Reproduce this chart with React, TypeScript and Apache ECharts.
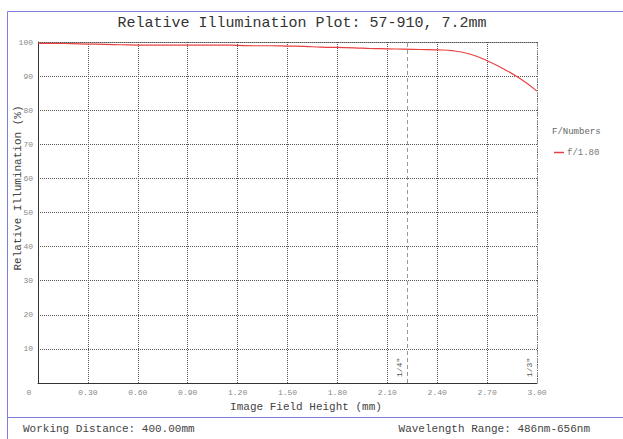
import React, { useEffect, useRef } from "react";
import * as echarts from "echarts";

const fieldHeights = [0, 0.1, 0.2, 0.3, 0.4, 0.5, 0.6, 0.7, 0.8, 0.9, 1.0, 1.1, 1.2, 1.3, 1.4, 1.5, 1.6, 1.7, 1.8, 1.9, 2.0, 2.1, 2.2, 2.3, 2.4, 2.5, 2.6, 2.7, 2.8, 2.9, 3.0];
const illumination = [99.6, 99.6, 99.5, 99.4, 99.3, 99.2, 99.1, 99.1, 99.1, 99.1, 99.1, 99.1, 99.0, 98.9, 98.9, 98.8, 98.7, 98.5, 98.4, 98.3, 98.1, 98.0, 97.9, 97.8, 97.7, 97.4, 96.4, 94.5, 92.1, 89.2, 85.6];
const seriesName = "f/1.80";
const sensorMarkers = [
  { x: 2.22, label: '1/4"' },
  { x: 3.0, label: '1/3"' },
];
const titleText = "Relative Illumination Plot: 57-910, 7.2mm";
const xName = "Image Field Height (mm)";
const yName = "Relative Illumination (%)";
const legendTitle = "F/Numbers";
const footerLeft = "Working Distance: 400.00mm";
const footerRight = "Wavelength Range: 486nm-656nm";

const MONO = '"Liberation Mono", "Courier New", monospace';

export default function App() {
  const ref = useRef<HTMLDivElement>(null);
  useEffect(() => {
    if (!ref.current) return;
    const chart = echarts.init(ref.current, null, { renderer: "svg" });
    const frameColor = "#7f7fe0";
    chart.setOption({
      animation: false,
      backgroundColor: "#ffffff",
      grid: { left: 38, right: 86, top: 42, bottom: 56, containLabel: false },
      xAxis: {
        type: "value",
        min: 0,
        max: 3,
        interval: 0.3,
        axisLine: { show: true, lineStyle: { color: "#333", width: 1 } },
        axisTick: { show: false },
        axisLabel: {
          margin: 5,
          fontFamily: MONO,
          fontSize: 8,
          color: "#888",
          formatter: (v: number) => (v === 0 ? "{z|0}" : v.toFixed(2)),
          rich: { z: { fontFamily: MONO, fontSize: 8, color: "#888", padding: [0, 18, 0, 0] } },
        },
        splitLine: { show: true, lineStyle: { color: "#555", type: "dotted", width: 1 } },
      },
      yAxis: [
        {
          type: "value",
          min: 0,
          max: 100,
          interval: 10,
          axisLine: { show: true, lineStyle: { color: "#333", width: 1 } },
          axisTick: { show: false },
          axisLabel: {
            margin: 5,
            fontFamily: MONO,
            fontSize: 8,
            color: "#888",
            formatter: (v: number) => (v === 0 ? "" : String(v)),
          },
          splitLine: { show: true, lineStyle: { color: "#555", type: "dotted", width: 1 } },
        },
      ],
      legend: {
        show: true,
        left: 549,
        top: 143,
        orient: "vertical",
        icon: "rect",
        itemWidth: 10,
        itemHeight: 1.5,
        itemGap: 4,
        textStyle: { fontFamily: MONO, fontSize: 9, color: "#777", padding: [0, 0, 0, -2] },
        data: [seriesName],
      },
      series: [
        {
          name: seriesName,
          type: "line",
          data: fieldHeights.map((x, i) => [x, illumination[i]]),
          smooth: true,
          showSymbol: false,
          lineStyle: { color: "#e84040", width: 1.2 },
          itemStyle: { color: "#e84040" },
          markLine: {
            silent: true,
            symbol: "none",
            lineStyle: { color: "#999", type: [4, 3], width: 1 },
            label: {
              show: true,
              position: "insideStartTop",
              distance: [6, 4],
              fontFamily: MONO,
              fontSize: 8,
              color: "#555",
              formatter: (p: any) => p.name,
            },
            data: sensorMarkers.map((m) => ({ name: m.label, xAxis: m.x })),
          },
        },
      ],
      graphic: [
        { type: "line", shape: { x1: 7.5, y1: 11.5, x2: 623, y2: 11.5 }, style: { stroke: frameColor, lineWidth: 1 } },
        { type: "line", shape: { x1: 7.5, y1: 11.5, x2: 7.5, y2: 439 }, style: { stroke: frameColor, lineWidth: 1 } },
        { type: "line", shape: { x1: 7.5, y1: 417.5, x2: 623, y2: 417.5 }, style: { stroke: frameColor, lineWidth: 1 } },
        { type: "line", shape: { x1: 38, y1: 42.5, x2: 537, y2: 42.5 }, style: { stroke: "#999", lineWidth: 1 } },
        {
          type: "text",
          x: 302,
          y: 23,
          style: { text: titleText, font: `15px ${MONO}`, fill: "#333", align: "center", verticalAlign: "middle" },
        },
        {
          type: "text",
          x: 306,
          y: 407,
          style: { text: xName, font: `11px ${MONO}`, fill: "#444", align: "center", verticalAlign: "middle" },
        },
        {
          type: "text",
          x: 18,
          y: 188,
          rotation: Math.PI / 2,
          style: { text: yName, font: `11px ${MONO}`, fill: "#444", align: "center", verticalAlign: "middle" },
        },
        {
          type: "text",
          x: 552,
          y: 132,
          style: { text: legendTitle, font: `9px ${MONO}`, fill: "#666", align: "left", verticalAlign: "middle" },
        },
        {
          type: "text",
          x: 23,
          y: 429,
          style: { text: footerLeft, font: `11px ${MONO}`, fill: "#444", align: "left", verticalAlign: "middle" },
        },
        {
          type: "text",
          x: 590,
          y: 429,
          style: { text: footerRight, font: `11px ${MONO}`, fill: "#444", align: "right", verticalAlign: "middle" },
        },
      ],
    });
    return () => chart.dispose();
  }, []);
  return <div ref={ref} style={{ position: "fixed", left: 0, top: 0, width: 623, height: 439 }} />;
}
